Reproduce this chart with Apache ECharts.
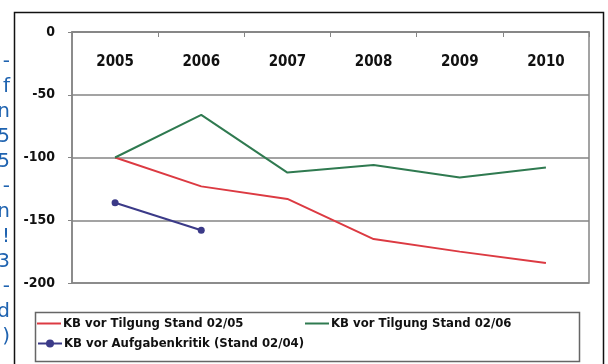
<!DOCTYPE html>
<html>
<head>
<meta charset="utf-8">
<script src="https://cdn.jsdelivr.net/npm/echarts@6/dist/echarts.min.js"></script>
<style>
  html, body { margin: 0; padding: 0; background: #ffffff; }
  #chart { width: 608px; height: 364px; }
</style>
</head>
<body>
<div id="chart"></div>
<script>
// Years on the category axis (drawn along the top edge of the plot)
const years = ['2005', '2006', '2007', '2008', '2009', '2010'];

// Series values
const tilgung0205 = [-100, -123, -133, -165, -175, -184];
const tilgung0206 = [-100, -66, -112, -106, -116, -108];
const aufgabenkritik0204 = [-136, -158, null, null, null, null];

// Series names as shown in the legend
const nameRed = 'KB vor Tilgung Stand 02/05';
const nameGreen = 'KB vor Tilgung Stand 02/06';
const nameBlue = 'KB vor Aufgabenkritik (Stand 02/04)';

// Fragments of the neighbouring column text at the left margin
const marginChars = ['-', 'f', 'n', '5', '5', '-', 'n', '!', '3', '-', 'd', ')'];

const FONT = '"Liberation Sans Narrow", "DejaVu Sans Condensed", "Liberation Sans", sans-serif';
const gridGray = '#858585';

const chart = echarts.init(document.getElementById('chart'), null, { renderer: 'canvas' });

const marginText = marginChars.map((ch, i) => ({
  type: 'text',
  right: 598,
  top: 52 + i * 25,
  style: {
    text: ch,
    fill: '#1f63b0',
    font: '20px "DejaVu Sans", sans-serif',
    textAlign: 'right'
  }
}));

const legendBase = {
  itemWidth: 24,
  itemHeight: 10,
  itemGap: 0,
  textStyle: { fontFamily: FONT, fontSize: 13, fontWeight: 'bold', color: '#111', padding: [0, 0, 0, -3] },
  padding: 0
};
// plain line key for the unmarked series
const lineKey = 'path://M0,0 L24,0 L24,2 L0,2 Z';

chart.setOption({
  animation: false,
  backgroundColor: '#ffffff',
  grid: {
    left: 72, top: 32, right: 19, bottom: 81,
    show: true, borderColor: gridGray, borderWidth: 1.5, backgroundColor: 'transparent'
  },
  legend: [
    Object.assign({}, legendBase, { data: [{ name: nameRed, icon: lineKey }], itemHeight: 2, left: 37, top: 317 }),
    Object.assign({}, legendBase, { data: [{ name: nameGreen, icon: lineKey }], itemHeight: 2, left: 305, top: 317 }),
    Object.assign({}, legendBase, { data: [nameBlue], left: 37, top: 337 })
  ],
  xAxis: {
    type: 'category',
    data: years,
    position: 'top',
    boundaryGap: true,
    axisLine: { show: true, lineStyle: { color: gridGray, width: 1.5 } },
    axisTick: { show: true, inside: true, length: 5, lineStyle: { color: gridGray } },
    axisLabel: {
      inside: true, margin: 23, color: '#111',
      fontFamily: FONT, fontSize: 15, fontWeight: 'bold'
    },
    splitLine: { show: false }
  },
  yAxis: {
    type: 'value',
    min: -200, max: 0, interval: 50,
    axisLine: { show: true, lineStyle: { color: gridGray, width: 1.5 } },
    axisTick: { show: true, length: 4, lineStyle: { color: gridGray } },
    axisLabel: {
      margin: 17, color: '#111',
      fontFamily: FONT, fontSize: 14, fontWeight: 'bold'
    },
    splitLine: { show: true, lineStyle: { color: gridGray, width: 1.5 } }
  },
  series: [
    {
      name: nameRed, type: 'line', data: tilgung0205,
      symbol: 'none', lineStyle: { color: '#dc3a42', width: 2 }, itemStyle: { color: '#dc3a42' }
    },
    {
      name: nameGreen, type: 'line', data: tilgung0206,
      symbol: 'none', lineStyle: { color: '#2f7a50', width: 2 }, itemStyle: { color: '#2f7a50' }
    },
    {
      name: nameBlue, type: 'line', data: aufgabenkritik0204,
      symbol: 'circle', symbolSize: 7, showSymbol: true,
      lineStyle: { color: '#3b3a88', width: 2 }, itemStyle: { color: '#3b3a88' }
    }
  ],
  graphic: [
    {
      type: 'rect', left: 12, top: 10,
      shape: { width: 589, height: 356 },
      style: { fill: 'none', stroke: '#111', lineWidth: 1.5 }
    },
    {
      type: 'rect', left: 33, top: 310,
      shape: { width: 544, height: 49 },
      style: { fill: 'none', stroke: '#666', lineWidth: 1.5 }
    }
  ].concat(marginText)
});
</script>
</body>
</html>
